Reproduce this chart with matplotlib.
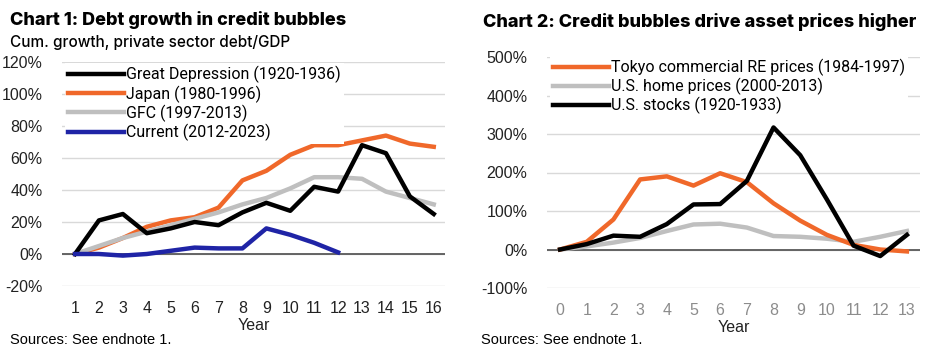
import matplotlib.pyplot as plt
from matplotlib.ticker import FuncFormatter

# Chart 1: cumulative growth, private sector debt/GDP (%)
years1 = list(range(1, 17))
great_depression = [0, 21, 25, 13, 16, 20, 18, 26, 32, 27, 42, 39, 68, 63, 36, 25]
japan = [0, 4, 10, 17, 21, 23, 29, 46, 52, 62, 68, 68, 71, 74, 69, 67]
gfc = [0, 5, 10, 14, 18, 22, 26, 31, 35, 41, 48, 48, 47, 39, 35, 31]
years_current = list(range(1, 13))
current = [0, 0, -1, 0, 2, 4, 3.5, 3.5, 16, 12, 7, 1]

# Chart 2: asset prices (%)
years2 = list(range(0, 14))
tokyo_re = [0, 20, 78, 182, 190, 166, 198, 175, 120, 75, 38, 12, 0, -5]
us_home = [0, 8, 18, 30, 48, 65, 67, 57, 35, 33, 28, 20, 33, 48]
us_stocks = [0, 14, 36, 33, 66, 117, 118, 178, 317, 245, 130, 10, -17, 38]

BLACK = "#000000"
ORANGE = "#f0682a"
GREY = "#bfbfbf"
BLUE = "#1f24a6"
TICK_FONT = "Liberation Sans"
LEG_FONT = "Roboto"
TITLE_FONT = "Inter"

fig = plt.figure(figsize=(9.4, 3.55), dpi=100)
W, H = 940, 355


def box(x0, y0, x1, y1):
    return [x0 / W, 1 - y1 / H, (x1 - x0) / W, (y1 - y0) / H]


def style(ax, ylim, yticks, xticks):
    ax.set_ylim(*ylim)
    ax.set_yticks(yticks)
    ax.set_xticks(xticks)
    ax.yaxis.set_major_formatter(FuncFormatter(lambda v, p: f"{v:.0f}%"))
    for s in ax.spines.values():
        s.set_visible(False)
    ax.grid(axis="y", color="#d9d9d9", lw=1)
    ax.set_axisbelow(True)
    ax.axhline(0, color="#595959", lw=1.3, zorder=1)
    ax.tick_params(length=0, labelsize=11.5, colors="#222222")
    ax.tick_params(axis="x", pad=11)
    ax.tick_params(axis="y", pad=14)
    for lab in ax.get_xticklabels() + ax.get_yticklabels():
        lab.set_family(TICK_FONT)
    ax.set_xlabel("Year", family=TICK_FONT, fontsize=11.5, labelpad=1, color="#222222")


lw = 3.2
leg_kw = dict(loc="upper left", frameon=True, framealpha=1, edgecolor="none", fancybox=False,
              handlelength=3.5, handletextpad=0.1, labelspacing=0.12, borderpad=0.2,
              borderaxespad=0.2, prop={"family": LEG_FONT, "size": 11.5})

ax1 = fig.add_axes(box(62, 62, 445, 286))
ax1.plot(years1, great_depression, color=BLACK, lw=lw, label="Great Depression (1920-1936)", zorder=5)
ax1.plot(years1, japan, color=ORANGE, lw=lw, label="Japan (1980-1996)", zorder=3)
ax1.plot(years1, gfc, color=GREY, lw=lw, label="GFC (1997-2013)", zorder=4)
ax1.plot(years_current, current, color=BLUE, lw=lw, label="Current (2012-2023)", zorder=6)
ax1.set_xlim(0.455, 16.47)
style(ax1, (-20, 120), range(-20, 121, 20), years1)
ax1.legend(bbox_to_anchor=(0.0, 1.01), **leg_kw)

ax2 = fig.add_axes(box(547, 57, 920, 288))
ax2.plot(years2, tokyo_re, color=ORANGE, lw=lw, label="Tokyo commercial RE prices (1984-1997)", zorder=3)
ax2.plot(years2, us_home, color=GREY, lw=lw, label="U.S. home prices (2000-2013)", zorder=2)
ax2.plot(years2, us_stocks, color=BLACK, lw=lw, label="U.S. stocks (1920-1933)", zorder=4)
ax2.set_xlim(-0.49, 13.49)
style(ax2, (-100, 500), range(-100, 501, 100), years2)
for lab in ax2.get_xticklabels():
    lab.set_color("#8c8c8c")
ax2.legend(bbox_to_anchor=(0.0, 1.02), **leg_kw)

fig.text(10 / W, 1 - 20 / H, "Chart 1: Debt growth in credit bubbles", family=TITLE_FONT,
         weight="heavy", fontsize=13, va="center")
fig.text(10 / W, 1 - 42 / H, "Cum. growth, private sector debt/GDP", family=TITLE_FONT,
         weight="medium", fontsize=11, va="center")
fig.text(483 / W, 1 - 22 / H, "Chart 2: Credit bubbles drive asset prices higher", family=TITLE_FONT,
         weight="heavy", fontsize=13, va="center")
fig.text(10 / W, 1 - 340 / H, "Sources: See endnote 1.", family=TICK_FONT, fontsize=10.5, va="center")
fig.text(481 / W, 1 - 340 / H, "Sources: See endnote 1.", family=TICK_FONT, fontsize=10.5, va="center")

fig.savefig("out.png", dpi=100)
